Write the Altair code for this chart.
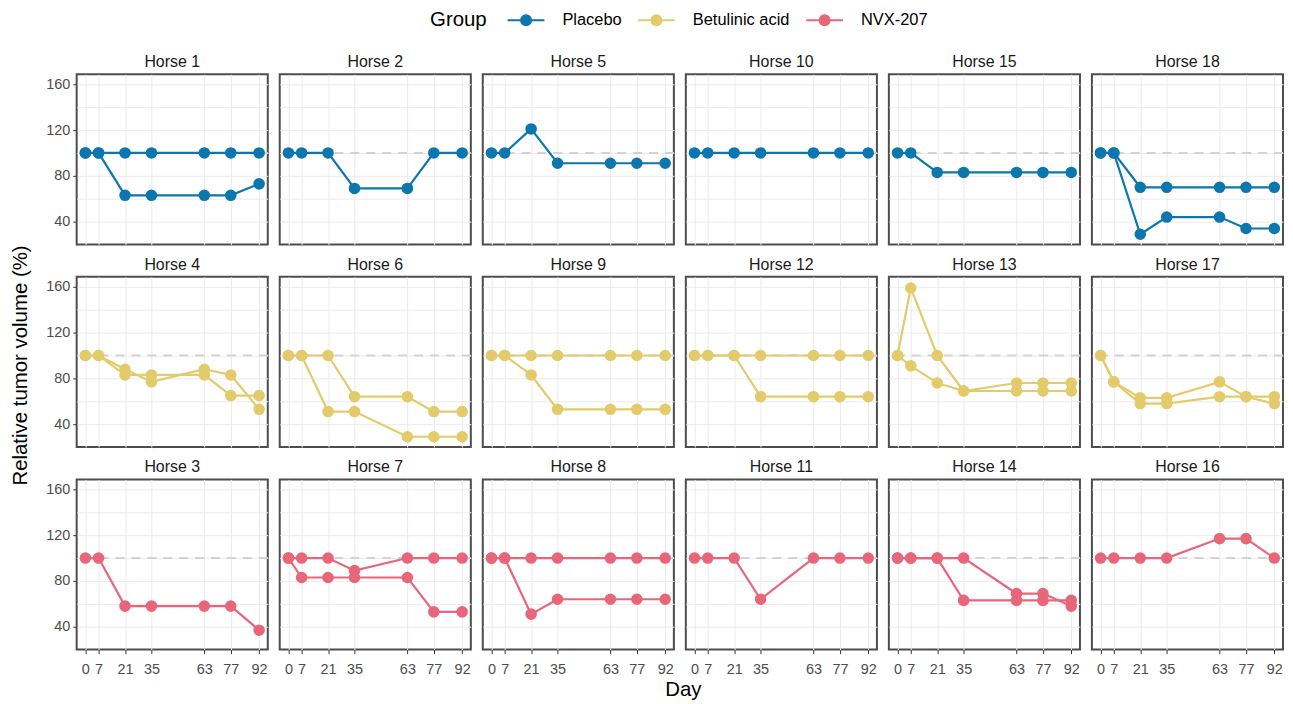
import altair as alt
import pandas as pd

DAYS = [0, 7, 21, 35, 63, 77, 92]
GROUPS = ["Placebo", "Betulinic acid", "NVX-207"]
COLORS = ["#0c76ae", "#e3cb6c", "#e8667a"]

PLACEBO_HORSES = ["Horse 1", "Horse 2", "Horse 5", "Horse 10", "Horse 15", "Horse 18"]
BETULINIC_HORSES = ["Horse 4", "Horse 6", "Horse 9", "Horse 12", "Horse 13", "Horse 17"]
NVX_HORSES = ["Horse 3", "Horse 7", "Horse 8", "Horse 11", "Horse 14", "Horse 16"]

# Relative tumor volume (%) per tumour, at each day in DAYS
h1_a = [100, 100, 100, 100, 100, 100, 100]
h1_b = [100, 100, 63, 63, 63, 63, 73]
h2_a = [100, 100, 100, 69, 69, 100, 100]
h5_a = [100, 100, 121, 91, 91, 91, 91]
h10_a = [100, 100, 100, 100, 100, 100, 100]
h15_a = [100, 100, 83, 83, 83, 83, 83]
h18_a = [100, 100, 70, 70, 70, 70, 70]
h18_b = [100, 100, 29, 44, 44, 34, 34]

h4_a = [100, 100, 88, 77, 88, 83, 53]
h4_b = [100, 100, 83, 83, 83, 65, 65]
h6_a = [100, 100, 100, 64, 64, 51, 51]
h6_b = [100, 100, 51, 51, 29, 29, 29]
h9_a = [100, 100, 100, 100, 100, 100, 100]
h9_b = [100, 100, 83, 53, 53, 53, 53]
h12_a = [100, 100, 100, 100, 100, 100, 100]
h12_b = [100, 100, 100, 64, 64, 64, 64]
h13_a = [100, 159, 100, 69, 76, 76, 76]
h13_b = [100, 91, 76, 69, 69, 69, 69]
h17_a = [100, 77, 63, 63, 77, 64, 58]
h17_b = [100, 77, 58, 58, 64, 64, 64]

h3_a = [100, 100, 58, 58, 58, 58, 37]
h7_a = [100, 100, 100, 89, 100, 100, 100]
h7_b = [100, 83, 83, 83, 83, 53, 53]
h8_a = [100, 100, 100, 100, 100, 100, 100]
h8_b = [100, 100, 51, 64, 64, 64, 64]
h11_a = [100, 100, 100, 64, 100, 100, 100]
h14_a = [100, 100, 100, 100, 69, 69, 58]
h14_b = [100, 100, 100, 63, 63, 63, 63]
h16_a = [100, 100, 100, 100, 117, 117, 100]

SERIES = {
    "Horse 1": [h1_a, h1_b], "Horse 2": [h2_a], "Horse 5": [h5_a],
    "Horse 10": [h10_a], "Horse 15": [h15_a], "Horse 18": [h18_a, h18_b],
    "Horse 4": [h4_a, h4_b], "Horse 6": [h6_a, h6_b], "Horse 9": [h9_a, h9_b],
    "Horse 12": [h12_a, h12_b], "Horse 13": [h13_a, h13_b], "Horse 17": [h17_a, h17_b],
    "Horse 3": [h3_a], "Horse 7": [h7_a, h7_b], "Horse 8": [h8_a, h8_b],
    "Horse 11": [h11_a], "Horse 14": [h14_a, h14_b], "Horse 16": [h16_a],
}

ROWS = [(GROUPS[0], PLACEBO_HORSES), (GROUPS[1], BETULINIC_HORSES), (GROUPS[2], NVX_HORSES)]

records = []
for group, horses in ROWS:
    for horse in horses:
        for ti, vals in enumerate(SERIES[horse]):
            for d, v in zip(DAYS, vals):
                records.append({"horse": horse, "group": group, "tumor": f"T{ti+1}", "day": d, "value": v})
df = pd.DataFrame(records)
ref_df = pd.DataFrame({"ref": [100]})

# legend key: a horizontal line with a filled dot in the middle
LEGEND_PATH = ("M-2,0L2,0M-0.54,0A0.54,0.54,0,1,0,0.54,0"
               "A0.54,0.54,0,1,0,-0.54,0Z")

xscale = alt.Scale(domain=[-4.6, 96.6], nice=False, zero=False)
yscale = alt.Scale(domain=[20, 168.7], nice=False, zero=False)
cscale = alt.Scale(domain=GROUPS, range=COLORS)
LEGEND = alt.Legend(
    title="Group", orient="none", legendX=355, legendY=-65,
    direction="horizontal", titleOrient="left", titleAnchor="middle", titleBaseline="middle",
    symbolType=LEGEND_PATH, symbolSize=342.25, symbolStrokeWidth=2, symbolOpacity=1,
    labelFontSize=16.5, titleFontSize=20.5, titleFontWeight="normal",
    titleColor="black", labelColor="black", titlePadding=29,
    columnPadding=12, labelOffset=26,
)

TICK_OP = {"condition": {"test": "datum.value % 40 !== 0", "value": 0}, "value": 1}


def panel(horse, row, col):
    d = df[df.horse == horse]
    xa = dict(values=DAYS, grid=True, domain=False, labels=(row == 2), ticks=(row == 2),
              labelFontSize=14.5, labelColor="#4d4d4d", tickColor="#333333", tickSize=4,
              labelPadding=9, labelOverlap=False, labelFlush=False)
    if row == 2 and col == 2:
        xa.update(title="Day", titleX=201, titleFontSize=20.5, titleFontWeight="normal",
                  titleColor="black", titlePadding=4)
    else:
        xa.update(title=None)
    ya = dict(values=[40, 60, 80, 100, 120, 140, 160], grid=True, domain=False,
              labels=(col == 0), ticks=(col == 0), labelFontSize=14.5, labelColor="#4d4d4d",
              tickColor="#333333", tickSize=4, labelPadding=3, tickOpacity=TICK_OP,
              labelExpr="datum.value % 40 === 0 ? datum.label : ''", title=None)

    x = alt.X("day:Q", scale=xscale, axis=alt.Axis(**xa))
    y = alt.Y("value:Q", scale=yscale, axis=alt.Axis(**ya))

    rule = alt.Chart(ref_df).mark_rule(color="#d3d3d3", strokeWidth=2, strokeDash=[9, 7]).encode(
        y=alt.Y("ref:Q", scale=yscale, axis=alt.Axis(**ya))
    )
    base = alt.Chart(d)
    lines = base.mark_line(strokeWidth=2.2).encode(
        x=x, y=y,
        stroke=alt.Stroke("group:N", scale=cscale, legend=LEGEND),
        detail="tumor:N",
    )
    pts = base.mark_point(filled=True, size=135, opacity=1).encode(
        x=x, y=y,
        color=alt.Color("group:N", scale=cscale, legend=LEGEND),
        detail="tumor:N",
    )
    return alt.layer(rule, lines, pts).properties(
        width=192, height=171,
        title=alt.TitleParams(horse, fontSize=16, fontWeight="normal", color="#1a1a1a", offset=4),
    )


panels = []
for r, (group, horses) in enumerate(ROWS):
    for c, horse in enumerate(horses):
        panels.append(panel(horse, r, c))

chart = alt.concat(*panels, columns=6, spacing={"row": 32.5, "column": 12}, bounds="flush").properties(
    padding={"left": 3, "top": 0, "right": 0, "bottom": 0},
    title=alt.TitleParams("Relative tumor volume (%)", orient="left", anchor="middle", frame="bounds",
                          fontSize=20.5, fontWeight="normal", color="black", offset=13, dx=-10),
).configure(
    font="Liberation Sans",
).configure_view(
    stroke="#4d4d4d", strokeWidth=2,
).configure_axis(
    gridColor="#ebebeb", gridWidth=1,
)

chart.save("out.html", embed_options={"renderer": "svg", "actions": False})
